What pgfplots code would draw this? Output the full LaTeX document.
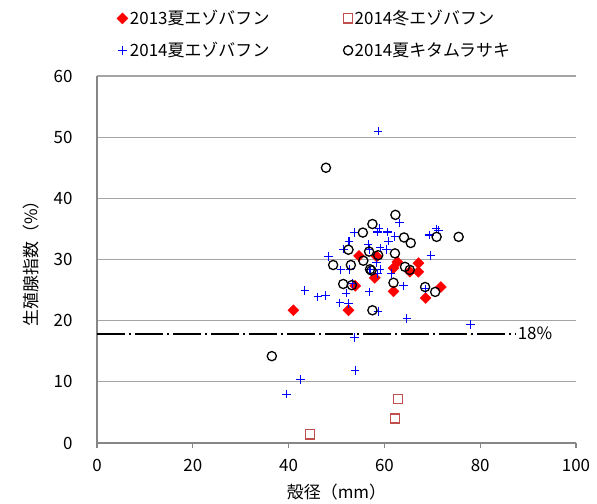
\documentclass[border=0pt]{standalone}
\usepackage{fontspec}
\setmainfont{Noto Sans CJK JP}
\usepackage{pgfplots}
\pgfplotsset{compat=1.18}
\definecolor{sqred}{RGB}{192,80,77}
\definecolor{axgray}{RGB}{134,134,134}
\definecolor{gridgray}{RGB}{165,165,165}
\begin{document}
\begin{tikzpicture}
\path[use as bounding box] (-97bp,-61bp) rectangle (500bp,443bp);
\begin{axis}[
  scale only axis, width=479bp, height=367bp,
  xmin=0, xmax=100, ymin=0, ymax=60,
  xtick={0,20,...,100}, ytick={0,10,...,60},
  axis x line*=bottom, axis y line*=left,
  axis line style={axgray, line width=1.2bp},
  ymajorgrids, grid style={gridgray, line width=1.2bp},
  xtick style={axgray, line width=1.2bp},
  ytick style={draw=none},
  tick align=outside, major tick length=5bp,
  /pgf/number format/assume math mode=true,
  tick label style={font=\fontsize{17}{20}\selectfont},
  yticklabel style={xshift=-16bp},
  xticklabel style={yshift=-8bp},
  xlabel={殻径（mm）}, ylabel={生殖腺指数（\%）},
  label style={font=\fontsize{17}{20}\selectfont},
  xlabel style={yshift=-5bp},
  ylabel style={yshift=8bp},
  legend columns=2,
  legend cell align=left,
  legend style={draw=none, fill=none, at={(0.035,1.19)}, anchor=north west,
    font=\fontsize{17}{20}\selectfont, row sep=12bp,
    /tikz/every even column/.append style={column sep=72bp}},
  legend image code/.code={\draw[#1] plot coordinates {(0bp,0bp)};},
]
% 2013 summer Ezobafun
\addplot[only marks, mark=square*, color=red, mark size=3.9bp, mark options={rotate=45}] coordinates {
(41.0,21.7)(52.5,21.7)(53.9,25.7)(54.7,30.6)(58.4,30.5)(58.0,27.0)(61.9,24.8)
(62.7,29.6)(61.9,28.6)(65.3,28.0)(67.1,29.4)(67.1,28.0)(68.6,23.7)(71.8,25.5)};
\addlegendentry{2013夏エゾバフン}
% 2014 winter Ezobafun
\addplot[only marks, mark=square, color=sqred, mark size=4.6bp, line width=1.3bp] coordinates {
(44.5,1.4)(62.2,4.0)(62.8,7.2)};
\addlegendentry{2014冬エゾバフン}
% 2014 summer Ezobafun
\addplot[only marks, mark=+, color=blue, mark size=4.3bp, line width=1.1bp] coordinates {
(58.7,51.0)(63.1,36.0)(53.7,34.4)(58.9,35.1)(58.6,34.5)(60.6,34.5)(62.2,33.8)
(60.8,33.0)(52.6,33.0)(51.4,31.7)(56.6,32.5)(59.1,31.9)(60.5,31.6)(69.4,34.0)
(70.8,35.0)(71.3,34.8)(69.7,30.7)(48.3,30.5)(56.8,31.6)(58.4,29.5)(50.9,28.3)
(52.8,28.4)(57.0,28.3)(59.1,28.4)(58.6,27.7)(61.4,27.7)(53.4,26.1)(64.0,25.7)
(68.6,25.2)(43.4,24.9)(46.1,23.9)(47.7,24.1)(52.0,24.5)(56.8,24.7)(50.7,22.9)
(52.5,22.8)(58.7,21.5)(64.7,20.4)(78.0,19.4)(53.7,17.2)(53.9,11.9)(42.5,10.4)
(39.6,8.0)};
\addlegendentry{2014夏エゾバフン}
% 2014 summer Kitamurasaki
\addplot[only marks, mark=o, color=black, mark size=4.6bp, line width=1.3bp] coordinates {
(47.8,45.0)(62.3,37.3)(57.5,35.8)(55.5,34.4)(64.1,33.6)(65.5,32.7)(70.9,33.7)
(75.5,33.7)(52.5,31.6)(56.8,31.3)(58.7,30.7)(62.2,31.0)(55.6,29.8)(49.3,29.1)
(53.0,29.1)(57.0,28.4)(57.3,28.2)(64.3,28.8)(65.3,28.3)(51.4,26.0)(53.2,25.8)
(61.9,26.2)(68.5,25.5)(70.6,24.7)(57.5,21.7)(36.5,14.2)};
\addlegendentry{2014夏キタムラサキ}
% 18% reference line
\addplot[black, line width=2bp, dash pattern=on 28bp off 4bp on 2bp off 4bp, forget plot] coordinates {(0,17.9)(87.5,17.9)};
\node[anchor=west, inner sep=1bp, font=\fontsize{17}{20}\selectfont] at (axis cs:87.6,17.9) {18\%};
\end{axis}
\end{tikzpicture}
\end{document}
